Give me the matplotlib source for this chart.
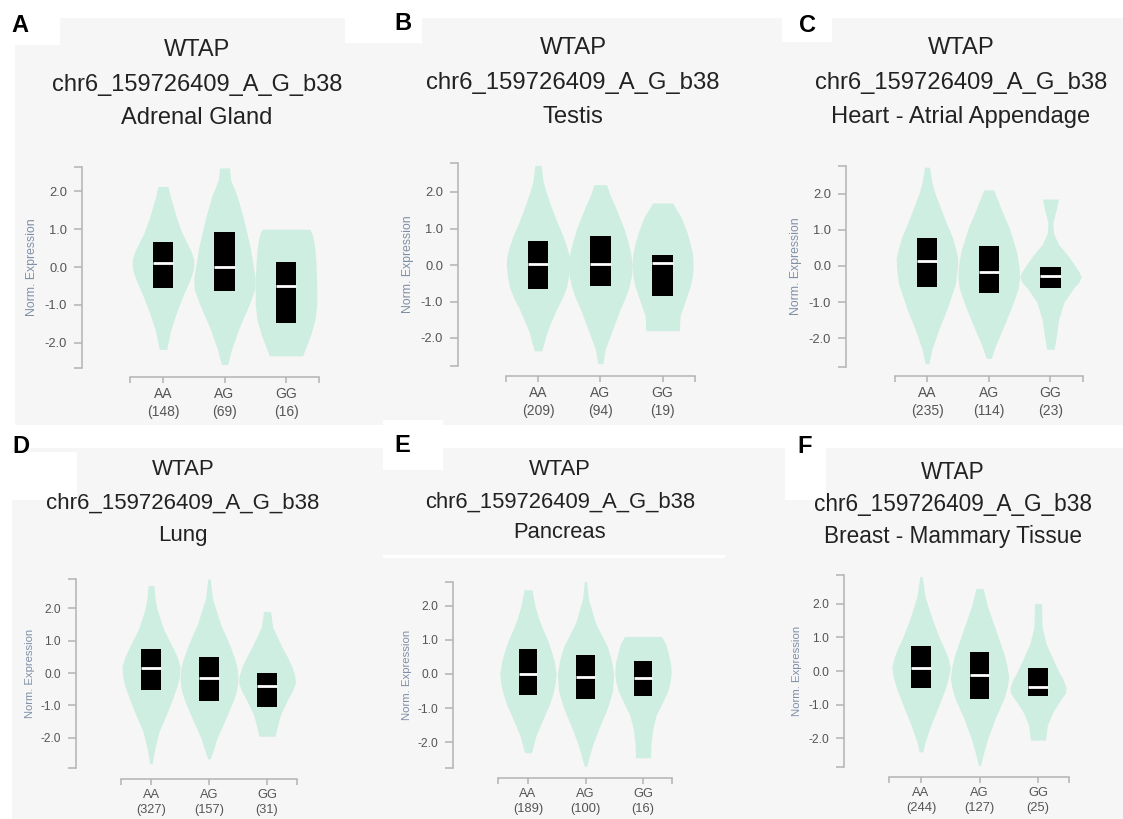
import matplotlib
matplotlib.use("Agg")
import matplotlib.pyplot as plt
from matplotlib.patches import Rectangle

plt.rcParams['font.family'] = ['Liberation Sans', 'DejaVu Sans']

# ---------------- data ----------------
gene = "WTAP"
snp = "chr6_159726409_A_G_b38"
genotypes = ["AA", "AG", "GG"]
panel_letters = ["A", "B", "C", "D", "E", "F"]
tissues = ["Adrenal Gland", "Testis", "Heart - Atrial Appendage",
           "Lung", "Pancreas", "Breast - Mammary Tissue"]
y_ticks = [-2.0, -1.0, 0.0, 1.0, 2.0]

counts_A = [148, 69, 16]
counts_B = [209, 94, 19]
counts_C = [235, 114, 23]
counts_D = [327, 157, 31]
counts_E = [189, 100, 16]
counts_F = [244, 127, 25]

# box: upper quartile, median, lower quartile
q3_A = [0.66, 0.92, 0.12];  med_A = [0.10, 0.00, -0.49];  q1_A = [-0.55, -0.63, -1.48]
q3_B = [0.66, 0.79, 0.27];  med_B = [0.04, 0.04, 0.05];   q1_B = [-0.65, -0.57, -0.86]
q3_C = [0.77, 0.55, -0.04]; med_C = [0.15, -0.17, -0.29]; q1_C = [-0.58, -0.75, -0.62]
q3_D = [0.75, 0.48, 0.00];  med_D = [0.15, -0.15, -0.40]; q1_D = [-0.52, -0.85, -1.06]
q3_E = [0.74, 0.56, 0.37];  med_E = [0.00, -0.09, -0.12]; q1_E = [-0.61, -0.73, -0.65]
q3_F = [0.75, 0.57, 0.09];  med_F = [0.10, -0.12, -0.48]; q1_F = [-0.51, -0.83, -0.73]

# violin outlines: expression levels and half-widths (fraction of category spacing)
vy_A = [[2.13, 1.8, 1.3, 0.9, 0.6, 0.4, 0.2, 0.0, -0.2, -0.45, -0.7, -1.2, -1.7, -2.18],
        [2.62, 2.3, 1.9, 1.4, 1.0, 0.5, 0.0, -0.3, -0.6, -1.0, -1.6, -2.2, -2.58],
        [1.0, 0.85, 0.6, 0.3, 0.0, -0.5, -1.0, -1.4, -1.8, -2.1, -2.35]]
vw_A = [[0.08, 0.13, 0.22, 0.31, 0.40, 0.46, 0.50, 0.50, 0.47, 0.41, 0.34, 0.22, 0.12, 0.06],
        [0.08, 0.10, 0.20, 0.29, 0.35, 0.42, 0.47, 0.50, 0.49, 0.40, 0.24, 0.11, 0.05],
        [0.39, 0.43, 0.46, 0.48, 0.49, 0.50, 0.50, 0.47, 0.40, 0.33, 0.27]]
vy_B = [[2.73, 2.3, 2.0, 1.6, 1.2, 0.8, 0.5, 0.25, 0.0, -0.3, -0.6, -0.9, -1.2, -1.8, -2.35],
        [2.2, 1.9, 1.6, 1.0, 0.6, 0.3, 0.0, -0.3, -0.6, -0.9, -1.2, -1.8, -2.3, -2.7],
        [1.7, 1.5, 1.3, 0.9, 0.6, 0.3, 0.0, -0.3, -0.6, -0.9, -1.4, -1.8]]
vw_B = [[0.05, 0.08, 0.13, 0.21, 0.30, 0.40, 0.46, 0.50, 0.51, 0.49, 0.46, 0.39, 0.30, 0.15, 0.06],
        [0.10, 0.16, 0.24, 0.38, 0.45, 0.49, 0.51, 0.50, 0.46, 0.40, 0.32, 0.19, 0.08, 0.04],
        [0.16, 0.23, 0.30, 0.39, 0.44, 0.48, 0.49, 0.48, 0.44, 0.38, 0.28, 0.27]]
vy_C = [[2.73, 2.3, 2.0, 1.6, 1.2, 0.8, 0.5, 0.2, -0.1, -0.5, -0.85, -1.2, -1.8, -2.3, -2.7],
        [2.1, 1.8, 1.5, 1.1, 0.8, 0.4, 0.0, -0.3, -0.6, -1.0, -1.6, -2.2, -2.55],
        [1.85, 1.6, 1.2, 0.9, 0.6, 0.3, 0.0, -0.15, -0.3, -0.45, -0.6, -1.0, -1.5, -1.9, -2.3]]
vw_C = [[0.04, 0.08, 0.13, 0.22, 0.31, 0.41, 0.46, 0.50, 0.49, 0.46, 0.39, 0.32, 0.18, 0.08, 0.03],
        [0.08, 0.15, 0.22, 0.32, 0.38, 0.45, 0.49, 0.50, 0.48, 0.40, 0.26, 0.11, 0.04],
        [0.13, 0.10, 0.04, 0.05, 0.13, 0.28, 0.40, 0.46, 0.50, 0.46, 0.38, 0.22, 0.13, 0.10, 0.06]]
vy_D = [[2.7, 2.3, 2.0, 1.6, 1.3, 0.8, 0.5, 0.2, -0.1, -0.4, -0.8, -1.3, -1.8, -2.3, -2.8],
        [2.9, 2.3, 1.5, 1.1, 0.8, 0.4, 0.1, -0.2, -0.5, -0.8, -1.4, -2.0, -2.4, -2.65],
        [1.9, 1.4, 1.1, 0.8, 0.5, 0.2, -0.1, -0.3, -0.55, -0.8, -1.3, -1.7, -1.95]]
vw_D = [[0.05, 0.07, 0.10, 0.17, 0.23, 0.37, 0.45, 0.50, 0.49, 0.45, 0.37, 0.26, 0.14, 0.07, 0.02],
        [0.02, 0.06, 0.20, 0.30, 0.37, 0.45, 0.49, 0.50, 0.48, 0.43, 0.29, 0.14, 0.07, 0.02],
        [0.06, 0.10, 0.18, 0.26, 0.35, 0.43, 0.48, 0.49, 0.44, 0.36, 0.23, 0.17, 0.14]]
vy_E = [[2.46, 2.0, 1.6, 1.3, 1.0, 0.7, 0.35, 0.0, -0.3, -0.6, -0.9, -1.2, -1.8, -2.3],
        [2.7, 2.2, 1.5, 1.1, 0.8, 0.4, 0.0, -0.5, -1.0, -1.6, -2.1, -2.7],
        [1.1, 0.9, 0.6, 0.3, 0.0, -0.25, -0.5, -0.9, -1.2, -1.6, -2.0, -2.45]]
vw_E = [[0.07, 0.12, 0.19, 0.26, 0.34, 0.40, 0.46, 0.49, 0.47, 0.43, 0.37, 0.29, 0.14, 0.06],
        [0.02, 0.05, 0.17, 0.29, 0.38, 0.45, 0.49, 0.47, 0.38, 0.23, 0.12, 0.02],
        [0.32, 0.39, 0.44, 0.48, 0.49, 0.47, 0.43, 0.32, 0.23, 0.17, 0.14, 0.13]]
vy_F = [[2.8, 2.2, 1.5, 1.0, 0.7, 0.4, 0.1, -0.2, -0.5, -1.0, -1.6, -2.1, -2.4],
        [2.45, 1.9, 1.2, 0.8, 0.5, 0.15, -0.2, -0.5, -0.8, -1.4, -2.0, -2.5, -2.8],
        [2.0, 1.3, 0.8, 0.3, 0.0, -0.25, -0.5, -0.65, -0.8, -1.2, -1.6, -2.05]]
vw_F = [[0.02, 0.07, 0.20, 0.31, 0.39, 0.46, 0.50, 0.47, 0.42, 0.31, 0.17, 0.07, 0.03],
        [0.06, 0.14, 0.28, 0.36, 0.42, 0.47, 0.50, 0.47, 0.42, 0.27, 0.14, 0.06, 0.02],
        [0.06, 0.07, 0.14, 0.27, 0.35, 0.43, 0.48, 0.47, 0.41, 0.26, 0.16, 0.13]]

counts = [counts_A, counts_B, counts_C, counts_D, counts_E, counts_F]
q3s = [q3_A, q3_B, q3_C, q3_D, q3_E, q3_F]
meds = [med_A, med_B, med_C, med_D, med_E, med_F]
q1s = [q1_A, q1_B, q1_C, q1_D, q1_E, q1_F]
vys = [vy_A, vy_B, vy_C, vy_D, vy_E, vy_F]
vws = [vw_A, vw_B, vw_C, vw_D, vw_E, vw_F]

# ---------------- layout (pixels) ----------------
W, H = 1123, 819
# yaxis_x, ytop, ybot, y_zero, px_per_unit, xaxis_y, x_start, x_end, x_first, spacing
geom = [
    (82, 167, 368, 267, 37.8, 377, 130, 319, 163, 61.5),
    (458, 163, 366, 265, 36.5, 376, 506, 695, 538, 62.3),
    (846, 166, 367, 266, 36.2, 376, 895, 1083, 927, 61.7),
    (76, 579, 768, 673, 32.4, 779, 121, 297, 151, 58.0),
    (453, 582, 768, 674, 34.2, 778, 498, 672, 528, 57.5),
    (844, 575, 767, 671, 33.7, 777, 889, 1069, 921, 58.5),
]
title_pos = [(197, [50, 85, 118]), (573, [48, 83, 117]), (961, [48, 83, 117]),
             (183, [470, 503, 535]), (560, [470, 502, 533]), (953, [473, 505, 537])]
title_fs = [17.0, 17.2, 17.1, 16.0, 15.8, 16.3]
letter_pos = [(20, 26), (403, 24), (807, 25), (21, 447), (402, 446), (805, 447)]
scale = [1.0, 1.0, 1.0, 0.92, 0.93, 0.93]

violin_color = '#cdeee0'
bg_gray = '#f6f6f6'
axis_gray = '#b3b3b3'
tick_text = '#555555'
ylabel_color = '#7f8fa6'

fig = plt.figure(figsize=(W / 100, H / 100), dpi=100, facecolor='white')


def fx(px):
    return px / W


def fy(py):
    return 1 - py / H


def rect(x0, y0, x1, y1, c):
    fig.add_artist(Rectangle((fx(x0), fy(y1)), (x1 - x0) / W, (y1 - y0) / H,
                             transform=fig.transFigure, facecolor=c,
                             edgecolor='none', zorder=-10))


# backgrounds (screenshot panels)
rect(15, 18, W, 425, bg_gray)
rect(12, 448, W, H, bg_gray)
for box in [(0, 0, 60, 45), (345, 0, 422, 43), (782, 0, 832, 42),
            (0, 452, 77, 500), (383, 420, 443, 470), (785, 425, 826, 500)]:
    rect(*box, 'white')
rect(383, 555, 725, 558, 'white')

for i in range(6):
    yax, ytop, ybot, y0, unit, xay, xs, xe, xf, sp = geom[i]
    s = scale[i]
    ax = fig.add_axes([fx(xs), fy(ybot), (xe - xs) / W, (ybot - ytop) / H])
    ax.set_facecolor('none')
    xlim = ((xs - xf) / sp, (xe - xf) / sp)
    ylim = ((y0 - ybot) / unit, (y0 - ytop) / unit)
    ax.set_xlim(*xlim)
    ax.set_ylim(*ylim)

    for k in range(3):
        ax.fill_betweenx(vys[i][k], [k - w for w in vws[i][k]], [k + w for w in vws[i][k]],
                         color=violin_color, linewidth=0, zorder=1)
    heights = [a - b for a, b in zip(q3s[i], q1s[i])]
    ax.bar(range(3), heights, bottom=q1s[i], width=0.33, color='black', zorder=2)
    ax.hlines(meds[i], [k - 0.165 for k in range(3)], [k + 0.165 for k in range(3)],
              colors='white', linewidth=2.0, zorder=3)

    for sname in ['top', 'right']:
        ax.spines[sname].set_visible(False)
    ax.spines['left'].set_position(('outward', (xs - yax) * 0.72))
    ax.spines['bottom'].set_position(('outward', (xay - ybot) * 0.72))
    for sname in ['left', 'bottom']:
        ax.spines[sname].set_color(axis_gray)
        ax.spines[sname].set_linewidth(1.1)

    ax.set_yticks(y_ticks)
    ax.set_yticklabels([f"{v:.1f}" for v in y_ticks])
    ax.set_yticks(list(ylim), minor=True)
    ax.set_xticks(range(3))
    ax.set_xticklabels([f"{g}\n({n})" for g, n in zip(genotypes, counts[i])],
                       linespacing=1.35)
    ax.set_xticks(list(xlim), minor=True)
    ax.tick_params(axis='y', which='both', direction='out', length=5.8, width=1.1,
                   color=axis_gray, pad=5, labelsize=9.3 * s, labelcolor=tick_text)
    ax.tick_params(axis='x', which='both', direction='out', length=4.3, width=1.1,
                   color=axis_gray, pad=3, labelsize=10 * s, labelcolor=tick_text)

    fig.text(fx(yax - 50 * s), fy((ytop + ybot) / 2), "Norm. Expression", rotation=90,
             ha='center', va='center', fontsize=8.8 * s, color=ylabel_color)

    cx, lines = title_pos[i]
    for txt, ly in zip([gene, snp, tissues[i]], lines):
        fig.text(fx(cx), fy(ly), txt, ha='center', va='center',
                 fontsize=title_fs[i], color='#222222')

    lx, ly = letter_pos[i]
    fig.text(fx(lx), fy(ly), panel_letters[i], ha='center', va='center',
             fontsize=17, fontweight='bold', color='black')

fig.savefig("out.png", dpi=100, facecolor='white')
